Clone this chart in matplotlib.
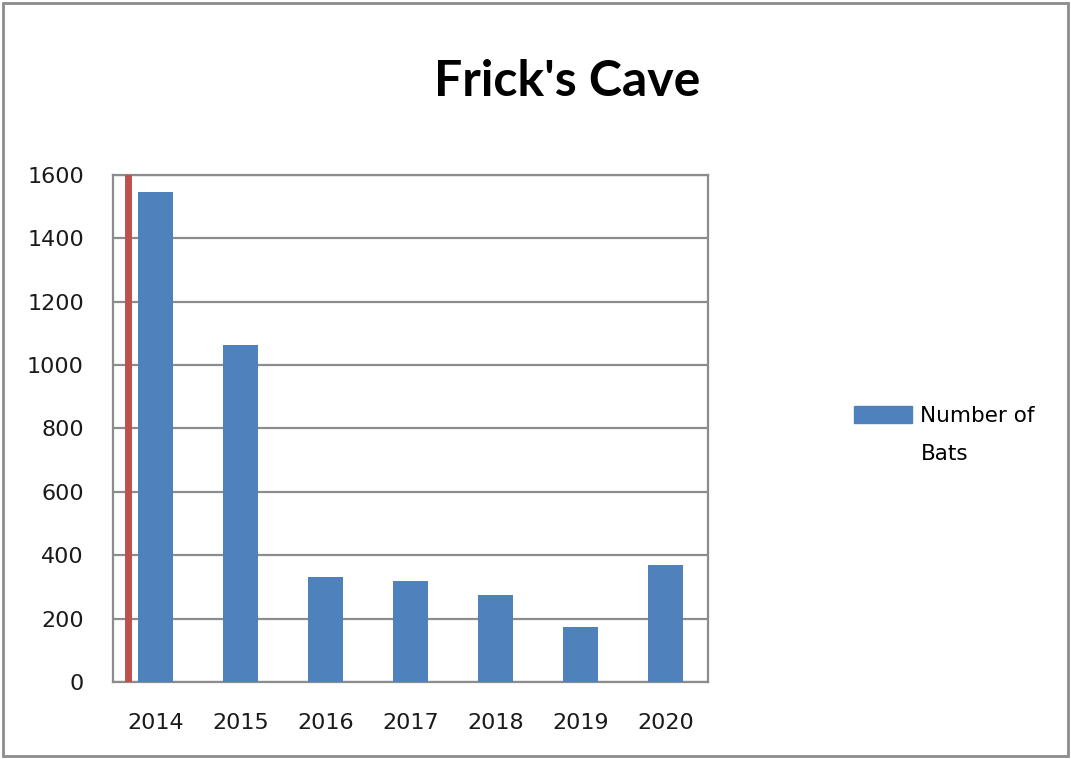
import matplotlib
matplotlib.use('Agg')
import matplotlib.pyplot as plt
from matplotlib.patches import Rectangle, Patch

years = ['2014', '2015', '2016', '2017', '2018', '2019', '2020']
bats = [1545, 1065, 330, 320, 275, 175, 370]
series_label = ['Number of', 'Bats']  # legend label wraps onto two lines
marker_x = -0.32  # red vertical line position (category units)

plt.rcParams['font.family'] = ['DejaVu Sans']

fig = plt.figure(figsize=(10.71, 7.59), dpi=100)
ax = fig.add_axes([0.1055, 0.1015, 0.5555, 0.6679])

x = range(len(years))
ax.bar(x, bats, width=0.41, color='#4F81BD', zorder=3)
ax.axvline(marker_x, color='#C0504D', linewidth=5, zorder=4)

ax.set_xlim(-0.5, len(years) - 0.5)
ax.set_ylim(0, 1600)
ax.set_yticks(range(0, 1601, 200))
ax.set_xticks(list(x))
ax.set_xticklabels(years)
ax.tick_params(length=0, labelsize=16, labelcolor='#1a1a1a')
ax.tick_params(axis='x', pad=22)
ax.tick_params(axis='y', pad=21)
ax.grid(axis='y', color='#8c8c8c', linewidth=1.6, zorder=0)
for s in ax.spines.values():
    s.set_color('#8c8c8c')
    s.set_linewidth(1.6)

fig.text(0.53, 0.893, "Frick's Cave", ha='center', va='center',
         fontsize=36, fontweight='bold', color='black', family='Lato')

# legend: patch beside first line, second line of the label below
handles = [Patch(color='#4F81BD'), Patch(color='none')]
fig.legend(handles, series_label, loc='center left',
           bbox_to_anchor=(0.779, 0.427), frameon=False, fontsize=15.5,
           handlelength=2.7, handleheight=0.8, handletextpad=0.4,
           labelspacing=0.85)

# outer chart border
fig.patches.append(Rectangle((0.003, 0.004), 0.994, 0.992, transform=fig.transFigure,
                             fill=False, edgecolor='#8c8c8c', linewidth=2))

fig.savefig('out.png', dpi=100)
